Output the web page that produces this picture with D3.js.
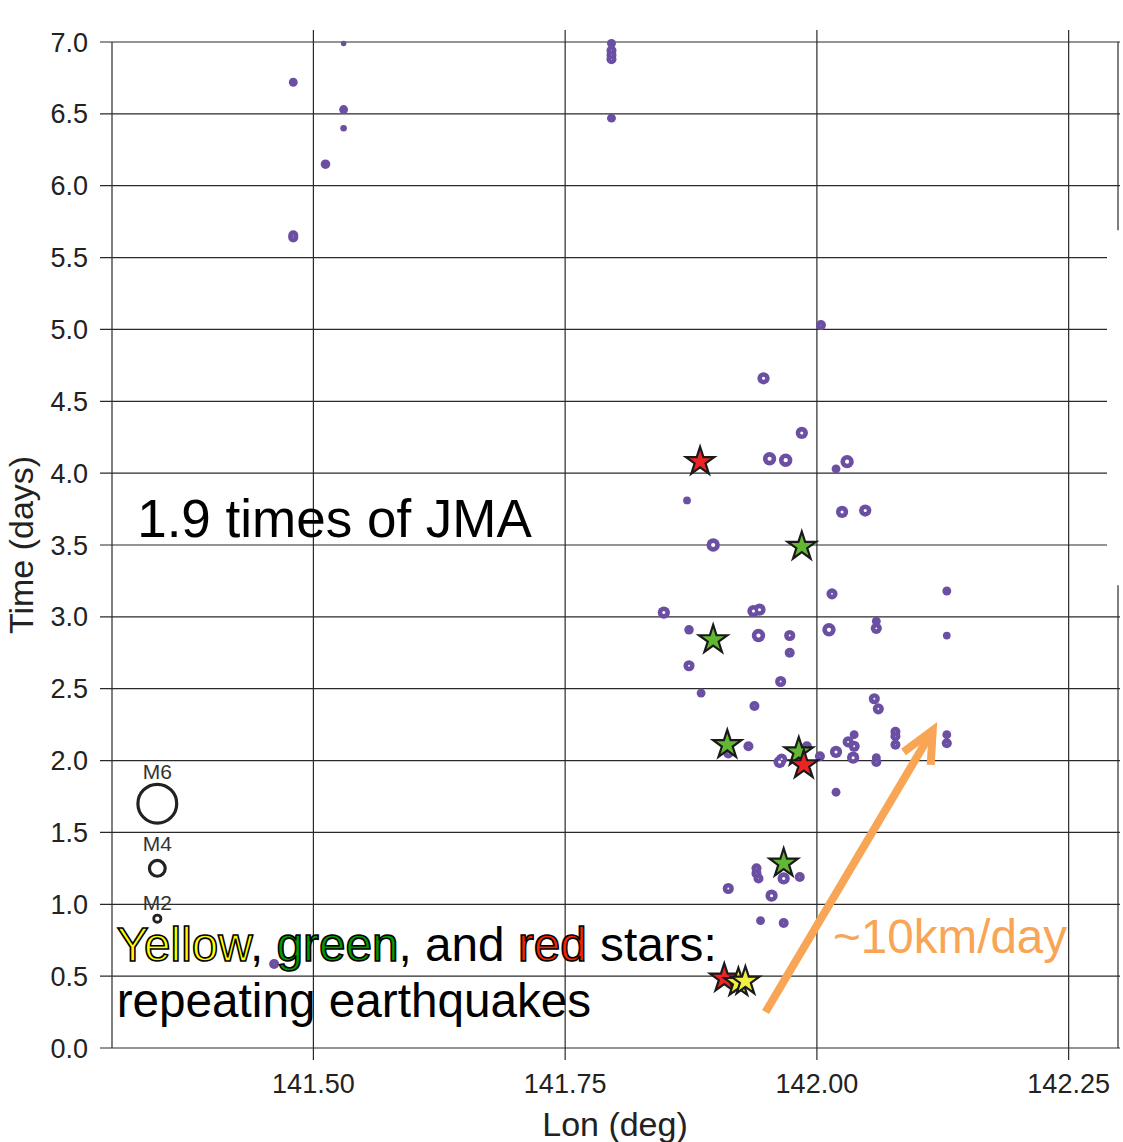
<!DOCTYPE html>
<html>
<head>
  <title>Repeating earthquakes - Time vs Lon</title>
  <script src="https://d3js.org/d3.v7.min.js"></script>
  <style>
    body { margin: 0; background: #fff; }
    text { font-family: "Liberation Sans", Arial, Helvetica, sans-serif; }
  </style>
</head>
<body>
  <svg id="chart" width="1123" height="1142"></svg>

  <script>
    // Earthquakes (purple circles): longitude, time (days), magnitude
    var quakeLon = [
      141.53, 141.48, 141.53, 141.53, 141.512, 141.48, 141.48,
      141.796, 141.796, 141.796, 141.796, 141.796,
      142.004, 141.947, 141.985, 141.953, 141.969, 142.019, 142.030,
      141.871, 142.025, 142.048, 141.897,
      142.015, 142.129, 141.848, 141.937, 141.943, 142.059, 142.059,
      141.873, 142.012, 141.942, 141.973, 142.129, 141.973, 141.873,
      141.964, 141.885, 142.057, 142.061, 141.938,
      141.932, 141.912, 142.037, 142.031, 142.037, 142.036,
      142.078, 142.078, 142.078, 142.129, 142.129, 142.019, 142.003,
      142.059, 142.059, 141.963, 141.965, 141.990, 142.019,
      141.940, 141.940, 141.942, 141.967, 141.983, 141.912, 141.955,
      141.944, 141.967, 141.461, 141.925
    ];
    var quakeTime = [
      6.99, 6.72, 6.53, 6.40, 6.15, 5.655, 5.64,
      6.99, 6.94, 6.91, 6.88, 6.47,
      5.03, 4.66, 4.28, 4.10, 4.09, 4.03, 4.08,
      3.81, 3.73, 3.74, 3.50,
      3.16, 3.18, 3.03, 3.04, 3.05, 2.97, 2.92,
      2.91, 2.91, 2.87, 2.87, 2.87, 2.75, 2.66,
      2.55, 2.47, 2.43, 2.36, 2.38,
      2.10, 2.05, 2.18, 2.13, 2.10, 2.02,
      2.20, 2.17, 2.11, 2.18, 2.12, 2.06, 2.03,
      2.02, 1.99, 1.99, 2.01, 2.10, 1.78,
      1.25, 1.215, 1.18, 1.18, 1.19, 1.11, 1.06,
      0.886, 0.87, 0.585, 0.45
    ];
    var quakeMag = [
      1.0, 1.75, 1.75, 1.25, 1.9, 2.0, 2.0,
      1.75, 2.0, 2.0, 2.0, 1.75,
      2.0, 2.5, 2.5, 2.75, 2.75, 1.75, 2.75,
      1.5, 2.5, 2.5, 2.75,
      2.25, 1.75, 2.5, 2.5, 2.5, 1.75, 2.25,
      1.9, 2.75, 2.75, 2.25, 1.5, 2.0, 2.25,
      2.25, 1.75, 2.25, 2.25, 2.0,
      2.0, 2.0, 1.75, 2.25, 2.25, 2.5,
      2.0, 2.0, 2.0, 1.75, 2.0, 2.5, 2.0,
      1.75, 2.0, 2.5, 2.25, 2.0, 1.75,
      2.0, 2.0, 2.0, 2.5, 2.0, 2.25, 2.5,
      1.75, 2.0, 2.0, 2.0
    ];

    // Repeating earthquakes (stars)
    var greenLon = [141.985, 141.897, 141.911, 141.982, 141.967];
    var greenTime = [3.49, 2.84, 2.11, 2.06, 1.285];
    var redLon = [141.884, 141.987, 141.908];
    var redTime = [4.08, 1.97, 0.485];
    var yellowLon = [141.922, 141.929];
    var yellowTime = [0.455, 0.465];

    // Magnitude legend
    var legendMags = [6, 4, 2];
    var legendTime = [1.70, 1.25, 0.90];
    var legendLon = 141.345;

    // Axis ticks
    var xTicks = [141.50, 141.75, 142.00, 142.25];
    var yTicks = [0, 0.5, 1, 1.5, 2, 2.5, 3, 3.5, 4, 4.5, 5, 5.5, 6, 6.5, 7];

    var svg = d3.select("#chart");
    var lineColor = "#2a2a2a";
    var purple = "#6a4fa3";

    var xScale = d3.scaleLinear().domain([141.3, 142.3]).range([112, 1119]);
    var yScale = d3.scaleLinear().domain([0, 7]).range([1048, 42]);
    // outer radius of a marker by magnitude
    var rScale = d3.scaleLinear().domain([2, 4, 6]).range([5, 9.5, 21]);

    // Grid lines (horizontal)
    var grid = svg.append("g");
    grid.selectAll("line.h")
      .data(yTicks)
      .enter().append("line")
      .attr("class", "h")
      .attr("x1", 100)
      .attr("x2", function(d) { return (d >= 3.5 && d <= 5.5) ? 1107 : 1120; })
      .attr("y1", function(d) { return yScale(d); })
      .attr("y2", function(d) { return yScale(d); })
      .attr("stroke", lineColor)
      .attr("stroke-width", 1.2);

    // Grid lines (vertical)
    grid.selectAll("line.v")
      .data(xTicks)
      .enter().append("line")
      .attr("class", "v")
      .attr("x1", function(d) { return xScale(d); })
      .attr("x2", function(d) { return xScale(d); })
      .attr("y1", 30)
      .attr("y2", 1060)
      .attr("stroke", lineColor)
      .attr("stroke-width", 1.2);

    // left frame and odd right frame pieces
    grid.append("line")
      .attr("x1", 112).attr("x2", 112)
      .attr("y1", yScale(7)).attr("y2", yScale(0))
      .attr("stroke", lineColor).attr("stroke-width", 1.2);
    grid.append("line")
      .attr("x1", 1118).attr("x2", 1118)
      .attr("y1", yScale(7)).attr("y2", yScale(5.69))
      .attr("stroke", lineColor).attr("stroke-width", 1.2);
    grid.append("line")
      .attr("x1", 1118).attr("x2", 1118)
      .attr("y1", yScale(3.22)).attr("y2", yScale(0))
      .attr("stroke", lineColor).attr("stroke-width", 1.2);

    // Tick labels
    svg.append("g").selectAll("text")
      .data(yTicks)
      .enter().append("text")
      .attr("x", 88)
      .attr("y", function(d) { return yScale(d) + 9.5; })
      .attr("text-anchor", "end")
      .attr("font-size", 27)
      .attr("fill", "#222")
      .text(function(d) { return d.toFixed(1); });

    svg.append("g").selectAll("text")
      .data(xTicks)
      .enter().append("text")
      .attr("x", function(d) { return xScale(d); })
      .attr("y", 1093)
      .attr("text-anchor", "middle")
      .attr("font-size", 27)
      .attr("fill", "#222")
      .text(function(d) { return d.toFixed(2); });

    // Axis titles
    svg.append("text")
      .attr("x", 615)
      .attr("y", 1136)
      .attr("text-anchor", "middle")
      .attr("font-size", 34)
      .attr("fill", "#222")
      .text("Lon (deg)");

    svg.append("text")
      .attr("transform", "translate(33,545) rotate(-90)")
      .attr("text-anchor", "middle")
      .attr("font-size", 34)
      .attr("fill", "#222")
      .text("Time (days)");

    // Earthquake circles: purple disc with a small white centre on the bigger ones
    var quakes = quakeLon.map(function(d, i) {
      return { lon: d, time: quakeTime[i], mag: quakeMag[i] };
    });
    var ringW = 4.6;
    var qg = svg.append("g");
    qg.selectAll("circle.q")
      .data(quakes)
      .enter().append("circle")
      .attr("class", "q")
      .attr("cx", function(d) { return xScale(d.lon); })
      .attr("cy", function(d) { return yScale(d.time); })
      .attr("r", function(d) { return rScale(d.mag); })
      .attr("fill", purple);
    qg.selectAll("circle.hole")
      .data(quakes.filter(function(d) { return rScale(d.mag) - ringW > 0.3; }))
      .enter().append("circle")
      .attr("class", "hole")
      .attr("cx", function(d) { return xScale(d.lon); })
      .attr("cy", function(d) { return yScale(d.time); })
      .attr("r", function(d) { return rScale(d.mag) - ringW; })
      .attr("fill", "#fff");

    // Stars
    var star = d3.symbol().type(d3.symbolStar).size(250);
    function drawStars(lons, times, color) {
      svg.append("g").selectAll("path")
        .data(lons)
        .enter().append("path")
        .attr("d", star)
        .attr("transform", function(d, i) {
          return "translate(" + xScale(d) + "," + yScale(times[i]) + ")";
        })
        .attr("fill", color)
        .attr("stroke", "#1a1a1a")
        .attr("stroke-width", 2.2);
    }
    drawStars(greenLon, greenTime, "#63b833");
    drawStars(redLon, redTime, "#ee2424");
    drawStars(yellowLon, yellowTime, "#f0ee40");

    // Magnitude legend
    var legend = svg.append("g");
    legendMags.forEach(function(m, i) {
      var cx = xScale(legendLon), cy = yScale(legendTime[i]), R = rScale(m);
      var w = m == 2 ? 2.8 : 3.2;
      legend.append("circle")
        .attr("cx", cx).attr("cy", cy)
        .attr("r", R - w / 2)
        .attr("fill", "none")
        .attr("stroke", "#222")
        .attr("stroke-width", w);
      legend.append("text")
        .attr("x", cx)
        .attr("y", cy - R - (m == 4 ? 8 : 4))
        .attr("text-anchor", "middle")
        .attr("font-size", 21)
        .attr("fill", "#333")
        .text("M" + m);
    });

    // Annotations
    svg.append("text")
      .attr("x", xScale(141.325))
      .attr("y", yScale(3.556))
      .attr("font-size", 53)
      .attr("fill", "#000")
      .text("1.9 times of JMA");

    var note = svg.append("text")
      .attr("x", xScale(141.3046))
      .attr("y", yScale(0.605))
      .attr("font-size", 47.7)
      .attr("fill", "#000");
    note.append("tspan").text("Yellow")
      .attr("fill", "#ffff00").attr("stroke", "#000").attr("stroke-width", 1.6);
    note.append("tspan").text(", ");
    note.append("tspan").text("green")
      .attr("fill", "#009900").attr("stroke", "#000").attr("stroke-width", 1.6);
    note.append("tspan").text(", and ");
    note.append("tspan").text("red")
      .attr("fill", "#ff2200").attr("stroke", "#000").attr("stroke-width", 1.6);
    note.append("tspan").text(" stars:");

    svg.append("text")
      .attr("x", xScale(141.3046))
      .attr("y", yScale(0.216))
      .attr("font-size", 47.7)
      .attr("fill", "#000")
      .text("repeating earthquakes");

    // Orange migration arrow
    var orange = "#f8a555";
    var ax1 = xScale(141.949), ay1 = yScale(0.25);
    var ax2 = xScale(142.115), ay2 = yScale(2.21);
    var arrow = svg.append("g")
      .attr("stroke", orange)
      .attr("stroke-width", 8)
      .attr("fill", "none");
    arrow.append("line")
      .attr("x1", ax1).attr("y1", ay1)
      .attr("x2", ax2).attr("y2", ay2);
    arrow.append("path")
      .attr("stroke-linejoin", "miter")
      .attr("d", "M" + xScale(142.086) + "," + yScale(2.06) +
        "L" + ax2 + "," + ay2 +
        "L" + xScale(142.113) + "," + yScale(1.97));

    svg.append("text")
      .attr("x", xScale(142.016))
      .attr("y", yScale(0.661))
      .attr("font-size", 47.6)
      .attr("fill", orange)
      .text("~10km/day");
  </script>
</body>
</html>
